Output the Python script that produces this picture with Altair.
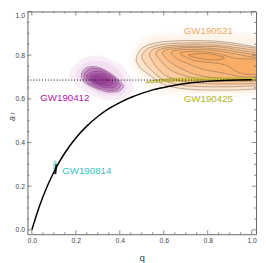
import altair as alt
import pandas as pd

# ---------------- data ----------------
# nonspinning remnant spin curve a_f(q)
curve_q = [0.0, 0.02, 0.05, 0.075, 0.1, 0.125, 0.15, 0.2, 0.25, 0.3, 0.35, 0.4, 0.45,
           0.5, 0.55, 0.6, 0.65, 0.7, 0.75, 0.8, 0.9, 1.0]
curve_a = [0.0, 0.065, 0.150, 0.211, 0.264, 0.311, 0.352, 0.421, 0.475, 0.519, 0.555,
           0.583, 0.606, 0.625, 0.641, 0.652, 0.662, 0.670, 0.676, 0.680, 0.685, 0.687]
af_equal_mass = [0.686]

tick_major = [0.0, 0.2, 0.4, 0.6, 0.8, 1.0]
tick_minor = [0.05, 0.1, 0.15, 0.25, 0.3, 0.35, 0.45, 0.5, 0.55, 0.65, 0.7, 0.75,
              0.85, 0.9, 0.95]

# GW190521 (orange) - glow and contours: q, lower a_f, upper a_f
o_halo = [
    ([0.44, 0.48, 0.55, 0.70, 0.85, 1.03],
     [0.76, 0.70, 0.63, 0.61, 0.61, 0.61],
     [0.79, 0.86, 0.90, 0.91, 0.91, 0.90]),
    ([0.46, 0.50, 0.60, 0.80, 1.03],
     [0.77, 0.71, 0.645, 0.625, 0.625],
     [0.795, 0.86, 0.885, 0.89, 0.875]),
]
o_cont = [
    ([0.475, 0.49, 0.52, 0.56, 0.60, 0.65, 0.70, 0.80, 0.90, 0.96, 1.03],
     [0.77, 0.745, 0.72, 0.69, 0.665, 0.652, 0.645, 0.640, 0.640, 0.642, 0.645],
     [0.79, 0.82, 0.842, 0.855, 0.862, 0.865, 0.867, 0.866, 0.858, 0.848, 0.835]),
    ([0.50, 0.52, 0.56, 0.60, 0.70, 0.80, 0.90, 0.96, 1.03],
     [0.785, 0.755, 0.715, 0.685, 0.660, 0.655, 0.655, 0.657, 0.660],
     [0.80, 0.825, 0.842, 0.850, 0.856, 0.857, 0.850, 0.840, 0.830]),
    ([0.535, 0.55, 0.58, 0.65, 0.75, 0.85, 0.93, 1.03],
     [0.795, 0.77, 0.73, 0.69, 0.672, 0.668, 0.668, 0.670],
     [0.81, 0.825, 0.835, 0.845, 0.848, 0.845, 0.835, 0.820]),
    ([0.565, 0.58, 0.62, 0.70, 0.80, 0.90, 0.96, 1.03],
     [0.80, 0.78, 0.74, 0.705, 0.685, 0.680, 0.680, 0.682],
     [0.815, 0.825, 0.835, 0.840, 0.840, 0.832, 0.820, 0.810]),
    ([0.595, 0.61, 0.65, 0.72, 0.80, 0.90, 0.96, 1.03],
     [0.805, 0.785, 0.755, 0.720, 0.700, 0.692, 0.690, 0.690],
     [0.815, 0.825, 0.830, 0.835, 0.832, 0.822, 0.810, 0.800]),
    ([0.635, 0.65, 0.70, 0.78, 0.86, 0.93, 0.98, 1.03],
     [0.805, 0.79, 0.765, 0.735, 0.720, 0.705, 0.700, 0.700],
     [0.815, 0.822, 0.826, 0.826, 0.818, 0.805, 0.795, 0.790]),
    ([0.675, 0.70, 0.74, 0.82, 0.88, 0.93, 0.98, 1.03],
     [0.805, 0.79, 0.775, 0.765, 0.755, 0.725, 0.712, 0.712],
     [0.812, 0.816, 0.818, 0.812, 0.798, 0.785, 0.783, 0.783]),
    ([0.715, 0.74, 0.78, 0.84, 0.875],
     [0.798, 0.790, 0.782, 0.778, 0.784],
     [0.802, 0.806, 0.808, 0.800, 0.790]),
]

# GW190412 (purple)
p_halo = [
    ([0.17, 0.20, 0.24, 0.30, 0.36, 0.42, 0.46],
     [0.70, 0.665, 0.635, 0.605, 0.595, 0.60, 0.64],
     [0.72, 0.76, 0.79, 0.80, 0.78, 0.74, 0.68]),
    ([0.20, 0.23, 0.28, 0.34, 0.40, 0.43],
     [0.70, 0.67, 0.635, 0.615, 0.615, 0.64],
     [0.72, 0.755, 0.775, 0.765, 0.725, 0.68]),
]
p_cont = [
    ([0.225, 0.235, 0.255, 0.28, 0.31, 0.35, 0.39, 0.41, 0.418],
     [0.700, 0.680, 0.665, 0.652, 0.640, 0.630, 0.632, 0.645, 0.658],
     [0.712, 0.732, 0.745, 0.748, 0.742, 0.722, 0.692, 0.670, 0.660]),
    ([0.237, 0.25, 0.28, 0.32, 0.36, 0.39, 0.403],
     [0.700, 0.678, 0.658, 0.645, 0.637, 0.643, 0.660],
     [0.712, 0.730, 0.740, 0.732, 0.710, 0.684, 0.664]),
    ([0.25, 0.27, 0.30, 0.34, 0.37, 0.388],
     [0.698, 0.674, 0.660, 0.650, 0.650, 0.664],
     [0.708, 0.722, 0.728, 0.715, 0.695, 0.670]),
    ([0.262, 0.28, 0.31, 0.34, 0.36, 0.372],
     [0.695, 0.676, 0.665, 0.660, 0.662, 0.672],
     [0.703, 0.712, 0.715, 0.705, 0.690, 0.678]),
    ([0.275, 0.29, 0.32, 0.35],
     [0.688, 0.676, 0.670, 0.678],
     [0.695, 0.703, 0.700, 0.686]),
]

# GW190425 (olive) thin band along the curve
y_band = [
    ([0.52, 0.58, 0.65, 0.75, 0.85, 0.95, 1.03],
     [0.672, 0.676, 0.680, 0.682, 0.684, 0.685, 0.685],
     [0.678, 0.688, 0.694, 0.697, 0.697, 0.697, 0.697]),
]
# GW190814 (cyan) tiny blob on the curve
c_band = [
    ([0.097, 0.103, 0.110, 0.116],
     [0.280, 0.262, 0.262, 0.285],
     [0.300, 0.318, 0.318, 0.300]),
]
c_core_q = [0.106, 0.112]
c_core_a = [0.255, 0.300]

labels = ["GW190521", "GW190412", "GW190425", "GW190814"]
label_q = [0.803, 0.150, 0.803, 0.250]
label_a = [0.912, 0.604, 0.600, 0.270]
label_col = ["#f5a65b", "#a8209a", "#b3b324", "#3dbfbf"]

# ---------------- build tables ----------------
def to_df(bands, name):
    rows = []
    for i, (q, lo, hi) in enumerate(bands):
        for qq, l, h in zip(q, lo, hi):
            rows.append({"g": f"{name}{i}", "q": qq, "lo": l, "hi": h})
    return pd.DataFrame(rows)

xs = alt.Scale(domain=[-0.02, 1.02], nice=False, zero=False)
ys = alt.Scale(domain=[-0.02, 1.0], nice=False, zero=False)
W, H = 235, 229
FONT = "Liberation Sans"
FRAME = "#666666"

XA = alt.Axis(values=tick_major, format=".1f", ticks=False, domain=False,
              grid=False, labelFontSize=7, labelColor="#444444",
              labelFont=FONT, labelPadding=2, labelFlush=False,
              labelOverlap=False, title="q", titleFont=FONT,
              titleFontSize=10, titleFontWeight="normal",
              titleColor="#444444", titlePadding=10)
YA = alt.Axis(values=tick_major, format=".1f", ticks=False, domain=False,
              grid=False, labelFontSize=7, labelColor="#444444",
              labelFont=FONT, labelPadding=3, labelFlush=True,
              labelOverlap=False, title=None)


def X(f):
    return alt.X(f, scale=xs, axis=XA)


def Y(f, **kw):
    return alt.Y(f, scale=ys, axis=YA, **kw)


def area_layer(df, fill, op, stroke=None, sw=0.5):
    kw = dict(fill=fill, fillOpacity=op, interpolate="monotone", clip=True)
    if stroke:
        kw.update(stroke=stroke, strokeWidth=sw, strokeOpacity=0.85)
    else:
        kw.update(strokeWidth=0)
    return alt.Chart(df).mark_area(**kw).encode(
        x=X("q:Q"), y=Y("lo:Q", stack=None), y2="hi:Q", detail="g:N")

layers = []
layers.append(area_layer(to_df(o_halo, "oh"), "#f59a45", 0.06))
layers.append(area_layer(to_df(o_cont, "oc"), "#f58a25", 0.15, stroke="#7d6a58", sw=0.6))
layers.append(area_layer(to_df(p_halo, "ph"), "#b040b0", 0.09))
layers.append(area_layer(to_df(p_cont, "pc"), "#84137f", 0.26, stroke="#6a2a6a", sw=0.5))
layers.append(area_layer(to_df(y_band, "yb"), "#c8c81e", 0.55, stroke="#9a9a20", sw=0.5))
layers.append(area_layer(to_df(c_band, "cb"), "#6fd6d6", 0.7))

core_df = pd.DataFrame({"q": c_core_q, "a": c_core_a})
layers.append(alt.Chart(core_df).mark_line(color="#222222", strokeWidth=2.2).encode(
    x=X("q:Q"), y=Y("a:Q")))

curve_df = pd.DataFrame({"q": curve_q, "a": curve_a})
layers.append(alt.Chart(curve_df).mark_line(color="black", strokeWidth=1.5,
                                            interpolate="monotone").encode(
    x=X("q:Q"), y=Y("a:Q")))

dot_df = pd.DataFrame({"a": af_equal_mass})
layers.append(alt.Chart(dot_df).mark_rule(color="black", strokeWidth=1,
                                          strokeDash=[1, 2]).encode(y=Y("a:Q")))


# ticks pointing inward on all four sides
def tick_layers(vals, length):
    d = pd.DataFrame({"v": vals})
    out = []
    out.append(alt.Chart(d).mark_rule(color=FRAME, strokeWidth=0.8).encode(
        y=Y("v:Q"), x=alt.value(0), x2=alt.value(length)))
    out.append(alt.Chart(d).mark_rule(color=FRAME, strokeWidth=0.8).encode(
        y=Y("v:Q"), x=alt.value(W), x2=alt.value(W - length)))
    out.append(alt.Chart(d).mark_rule(color=FRAME, strokeWidth=0.8).encode(
        x=X("v:Q"), y=alt.value(H), y2=alt.value(H - length)))
    out.append(alt.Chart(d).mark_rule(color=FRAME, strokeWidth=0.8).encode(
        x=X("v:Q"), y=alt.value(0), y2=alt.value(length)))
    return out

layers += tick_layers(tick_major, 4)
layers += tick_layers(tick_minor, 2)

# event labels
lab_df = pd.DataFrame({"t": labels, "q": label_q, "a": label_a, "c": label_col})
layers.append(alt.Chart(lab_df).mark_text(font=FONT, fontSize=10).encode(
    x=X("q:Q"), y=Y("a:Q"), text="t:N", color=alt.Color("c:N", scale=None)))

# y-axis title a_f (italic a with subscript f)
layers.append(alt.Chart(pd.DataFrame({"t": ["a"]})).mark_text(
    font=FONT, fontSize=9, fontStyle="italic", angle=270, color="#444444").encode(
    x=alt.value(-16), y=alt.value(110), text="t:N"))
layers.append(alt.Chart(pd.DataFrame({"t": ["f"]})).mark_text(
    font=FONT, fontSize=6, fontStyle="italic", angle=270, color="#444444").encode(
    x=alt.value(-14.5), y=alt.value(105), text="t:N"))

chart = alt.layer(*layers).properties(
    width=W, height=H,
    autosize=alt.AutoSizeParams(type="none"),
    padding={"left": 20, "top": 0, "right": 2, "bottom": 26},
).configure_view(stroke=FRAME, strokeWidth=1)

chart.save("out.html", embed_options={"renderer": "svg", "actions": False})
